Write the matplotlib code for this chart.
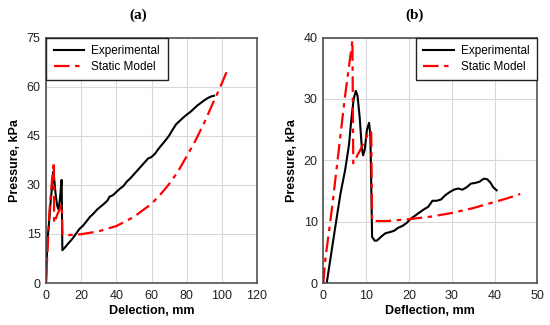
import matplotlib
matplotlib.use("Agg")
import matplotlib.pyplot as plt

plt.rcParams['font.family'] = ['Liberation Sans', 'DejaVu Sans']

# ---------------- data (a) ----------------
a_exp_x = [0, 0.3, 0.8, 1.5, 2.5, 3.5, 4.2, 4.8, 5.5, 6.4, 7.2, 8.0, 8.6, 8.9, 9.3,
           11, 13, 15, 17, 19, 21, 23, 25, 27, 29, 31, 33, 35, 36, 38, 40, 42, 44,
           46, 48, 50, 52, 54, 56, 58, 60, 62, 64, 66, 68, 70, 72, 74, 76, 78, 80,
           82, 84, 86, 88, 90, 92, 94, 95.5]
a_exp_y = [0, 5, 13, 17, 24, 30, 34, 31, 27, 23.5, 22.5, 26, 30, 31.5, 10,
           11, 12.3, 13.5, 15, 16.5, 17.5, 18.8, 20.2, 21.2, 22.4, 23.3, 24.2, 25.2,
           26.3, 26.8, 27.8, 28.8, 29.6, 31, 32, 33.2, 34.4, 35.6, 36.8, 38, 38.5,
           39.5, 41, 42.3, 43.6, 45, 46.8, 48.5, 49.5, 50.5, 51.4, 52.2, 53.2, 54.2,
           55, 55.8, 56.5, 57, 57.2]
a_mod_x = [0, 0.5, 2.0, 3.5, 4.5, 4.6, 6.5, 9.0, 9.3, 12, 20, 30, 40, 50, 60, 65,
           70, 75, 80, 85, 90, 95, 100, 103.5]
a_mod_y = [0, 6, 22, 32, 37, 18.3, 21, 24, 14.8, 14.6, 14.9, 15.8, 17.4, 20.2,
           24.2, 27, 30.2, 34, 38.7, 43.5, 49, 55, 61, 65.5]

# ---------------- data (b) ----------------
b_exp_x = [0.8, 2, 3.1, 4, 5.1, 6, 6.6, 7.1, 7.6, 8.0, 8.5, 9.0, 9.3, 9.7, 10.2,
           10.7, 11.0, 11.2, 11.4, 12.0, 12.5, 13.0, 13.6, 14.5, 15.6, 16.5, 17.5,
           18.5, 19.5, 20.5, 21.5, 22.5, 23.5, 24.5, 25.5, 26.5, 27.5, 28.5, 29.5,
           30.5, 31.5, 32.5, 33.5, 34.5, 35.5, 36.5, 37.5, 38.3, 39.0, 39.7, 40.5]
b_exp_y = [0, 5.5, 10.5, 14.5, 18.4, 22.5, 27, 30, 31.3, 30.5, 27, 22, 20.8, 21.8,
           25, 26.1, 24, 16, 7.5, 6.9, 6.9, 7.2, 7.6, 8.1, 8.3, 8.5, 9, 9.3, 9.8,
           10.5, 11, 11.5, 12, 12.4, 13.4, 13.4, 13.6, 14.3, 14.8, 15.2, 15.4, 15.2,
           15.6, 16.2, 16.3, 16.5, 17, 16.9, 16.4, 15.6, 15.1]
b_mod_x = [0, 0.5, 2, 3.5, 5, 6.8, 7.0, 8.5, 10.8, 11.2, 11.4, 15, 20, 25, 30, 35,
           40, 43, 46]
b_mod_y = [0, 4, 12, 21, 30, 39.5, 19.5, 21.5, 24.8, 24.5, 10.1, 10.1, 10.4, 10.8,
           11.4, 12.2, 13.2, 13.8, 14.5]

a_xticks = [0, 20, 40, 60, 80, 100, 120]
a_yticks = [0, 15, 30, 45, 60, 75]
b_xticks = [0, 10, 20, 30, 40, 50]
b_yticks = [0, 10, 20, 30, 40]

labels = ["Experimental", "Static Model"]

fig = plt.figure(figsize=(5.5, 3.25), dpi=100)
ax1 = fig.add_axes([46/550, 1-283/325, (257-46)/550, (283-37.5)/325])
ax2 = fig.add_axes([323.3/550, 1-283/325, (537.3-323.3)/550, (283-37.5)/325])

red_ls = (0, (7, 2.5, 2, 2.5))

def style(ax, xt, yt, xlabel, loc):
    ax.set_xlim(xt[0], xt[-1])
    ax.set_ylim(yt[0], yt[-1])
    ax.set_xticks(xt)
    ax.set_yticks(yt)
    ax.grid(True, color='#d9d9d9', linewidth=0.8)
    ax.set_axisbelow(True)
    ax.tick_params(length=0, labelsize=9, colors='#222222')
    ax.tick_params(axis='x', pad=5)
    ax.tick_params(axis='y', pad=4)
    for s in ax.spines.values():
        s.set_color('#444444')
        s.set_linewidth(1.1)
    ax.set_xlabel(xlabel, fontsize=9, fontweight='bold', labelpad=2)
    ax.set_ylabel("Pressure, kPa", fontsize=9, fontweight='bold', labelpad=4)
    leg = ax.legend(loc=loc, fontsize=8.5, borderaxespad=0, fancybox=False,
                    framealpha=1, edgecolor='#222222', handlelength=2.6,
                    handletextpad=0.6, borderpad=0.65, labelspacing=0.3)
    leg.get_frame().set_linewidth(1.0)

ax1.plot(a_exp_x, a_exp_y, color='black', lw=1.5, label=labels[0])
ax1.plot(a_mod_x, a_mod_y, color='red', lw=1.6, ls=red_ls, label=labels[1])
style(ax1, a_xticks, a_yticks, "Delection, mm", 'upper left')

ax2.plot(b_exp_x, b_exp_y, color='black', lw=1.5, label=labels[0])
ax2.plot(b_mod_x, b_mod_y, color='red', lw=1.6, ls=red_ls, label=labels[1])
style(ax2, b_xticks, b_yticks, "Deflection, mm", 'upper right')

fig.text(138/550, 1-15/325, "(a)", ha='center', va='center', fontsize=11,
         fontweight='bold', family=['Liberation Serif', 'DejaVu Serif'])
fig.text(415/550, 1-15/325, "(b)", ha='center', va='center', fontsize=11,
         fontweight='bold', family=['Liberation Serif', 'DejaVu Serif'])

fig.savefig("out.png", dpi=100)
